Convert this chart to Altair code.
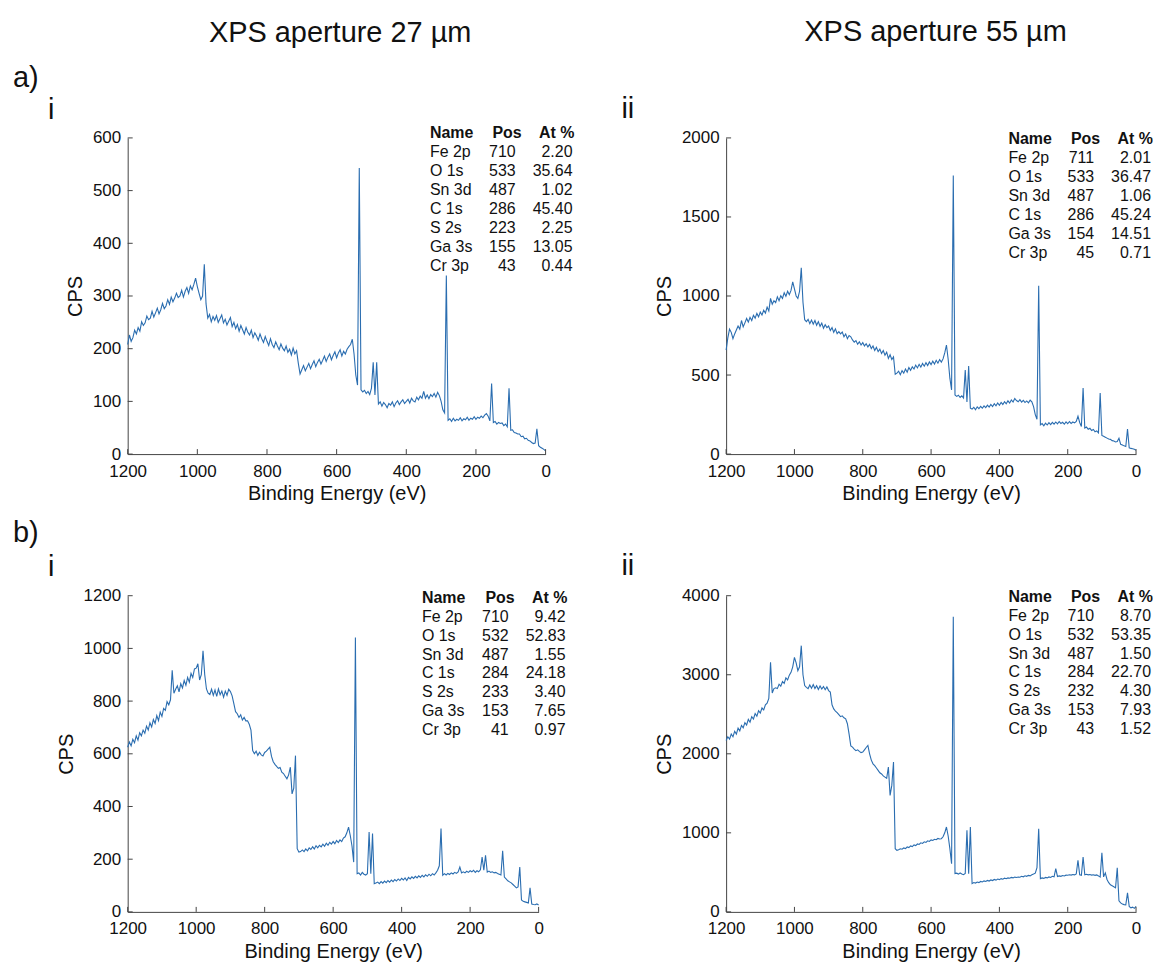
import altair as alt
import pandas as pd

# ---------------- data ----------------
# binding-energy sampling grid (eV), 5 eV steps from 1200 down to 0
ENERGY = [
    1200, 1195, 1190, 1185, 1180, 1175, 1170, 1165, 1160, 1155,
    1150, 1145, 1140, 1135, 1130, 1125, 1120, 1115, 1110, 1105,
    1100, 1095, 1090, 1085, 1080, 1075, 1070, 1065, 1060, 1055,
    1050, 1045, 1040, 1035, 1030, 1025, 1020, 1015, 1010, 1005,
    1000, 995, 990, 985, 980, 975, 970, 965, 960, 955,
    950, 945, 940, 935, 930, 925, 920, 915, 910, 905,
    900, 895, 890, 885, 880, 875, 870, 865, 860, 855,
    850, 845, 840, 835, 830, 825, 820, 815, 810, 805,
    800, 795, 790, 785, 780, 775, 770, 765, 760, 755,
    750, 745, 740, 735, 730, 725, 720, 715, 710, 705,
    700, 695, 690, 685, 680, 675, 670, 665, 660, 655,
    650, 645, 640, 635, 630, 625, 620, 615, 610, 605,
    600, 595, 590, 585, 580, 575, 570, 565, 560, 555,
    550, 545, 540, 535, 530, 525, 520, 515, 510, 505,
    500, 495, 490, 485, 480, 475, 470, 465, 460, 455,
    450, 445, 440, 435, 430, 425, 420, 415, 410, 405,
    400, 395, 390, 385, 380, 375, 370, 365, 360, 355,
    350, 345, 340, 335, 330, 325, 320, 315, 310, 305,
    300, 295, 290, 285, 280, 275, 270, 265, 260, 255,
    250, 245, 240, 235, 230, 225, 220, 215, 210, 205,
    200, 195, 190, 185, 180, 175, 170, 165, 160, 155,
    150, 145, 140, 135, 130, 125, 120, 115, 110, 105,
    100, 95, 90, 85, 80, 75, 70, 65, 60, 55,
    50, 45, 40, 35, 30, 25, 20, 15, 10, 5,
    0,
]

# a) i  - aperture 27 um
CPS_A_I = [
    208, 226, 214, 221, 235, 228, 240, 233, 251, 244,
    249, 262, 255, 258, 271, 260, 268, 277, 266, 274,
    286, 276, 281, 293, 284, 298, 289, 296, 305, 297,
    300, 311, 298, 309, 316, 305, 319, 312, 322, 334,
    318, 305, 293, 300, 360, 285, 258, 265, 251, 261,
    254, 263, 250, 257, 264, 249, 256, 245, 252, 259,
    242, 250, 238, 246, 233, 244, 236, 228, 240, 231,
    226, 235, 221, 230, 224, 216, 228, 219, 212, 223,
    214, 206, 219, 208, 202, 213, 205, 198, 209, 201,
    196, 205, 193, 199, 188, 201, 190, 196, 172, 152,
    160, 168, 158, 165, 172, 162, 170, 177, 166, 174,
    180, 171, 178, 186, 176, 184, 190, 179, 187, 194,
    183, 192, 198, 186, 195, 190, 199, 204, 208, 218,
    190, 150, 131, 543, 122, 118, 121, 115, 119, 113,
    125, 174, 112, 174, 95, 99, 91, 98, 94, 88,
    96, 93, 99, 90, 97, 101, 94, 99, 103, 96,
    100, 104, 97, 106, 101, 99, 108, 103, 110, 106,
    119, 106, 112, 105, 113, 109, 115, 108, 117, 111,
    100, 84, 78, 339, 64, 67, 62, 68, 63, 66,
    64, 69, 63, 67, 65, 70, 64, 68, 66, 71,
    66, 70, 68, 72, 69, 74, 77, 72, 63, 134,
    60, 62, 57, 60, 58, 59, 54, 57, 52, 125,
    45, 46, 41, 40, 38, 38, 33, 34, 29, 30,
    26, 25, 22, 20, 21, 48, 16, 13, 11, 9,
    6,
]

# a) ii - aperture 55 um
CPS_A_II = [
    658, 735, 790, 770, 730, 760, 785, 810, 790, 845,
    805, 830, 858, 835, 865, 845, 878, 860, 890, 868,
    898, 880, 910, 892, 930, 905, 985, 948, 970, 958,
    995, 970, 1002, 985, 1020, 998, 1030, 1008, 1035, 1090,
    1045, 1000, 985, 1030, 1178, 960, 850, 838, 852, 825,
    848, 822, 845, 815, 838, 808, 828, 796, 818, 800,
    810, 782, 800, 770, 792, 762, 775, 760, 772, 742,
    760, 730, 750, 742, 722, 708, 718, 695, 710, 690,
    705, 684, 698, 678, 694, 668, 684, 655, 675, 648,
    664, 636, 655, 625, 645, 605, 628, 598, 615, 505,
    512, 524, 502, 528, 512, 538, 518, 548, 530, 552,
    538, 563, 545, 568, 550, 573, 556, 578, 560, 583,
    566, 588, 570, 593, 575, 598, 582, 602, 640, 690,
    600, 480, 406, 1762, 374, 365, 372, 358, 368, 355,
    532, 330, 557, 290, 285, 296, 281, 299, 287, 302,
    290, 305, 294, 310, 297, 314, 301, 319, 305, 323,
    309, 327, 314, 332, 318, 337, 323, 342, 329, 352,
    339, 331, 344, 329, 340, 326, 336, 324, 341, 330,
    300, 250, 220, 1064, 185, 193, 179, 196, 184, 199,
    187, 201, 189, 203, 191, 206, 194, 201, 189, 204,
    192, 206, 194, 203, 197, 207, 240, 200, 175, 418,
    165, 171, 157, 163, 149, 156, 141, 147, 134, 386,
    118, 113, 107, 101, 95, 93, 85, 83, 77, 80,
    100, 62, 58, 52, 48, 158, 40, 36, 34, 30,
    25,
]

# b) i  - aperture 27 um
CPS_B_I = [
    625, 645, 630, 655, 642, 668, 652, 680, 668, 690,
    678, 705, 690, 718, 702, 730, 715, 745, 726, 758,
    742, 772, 765, 798, 786, 805, 917, 830, 845, 858,
    835, 866, 850, 878, 860, 890, 872, 905, 890, 922,
    925, 942, 880, 900, 991, 900, 846, 830, 825, 845,
    822, 842, 818, 846, 824, 838, 815, 838, 822, 845,
    836, 820, 790, 760, 752, 738, 748, 728, 738, 725,
    725, 712, 690, 612, 600, 610, 594, 606, 596, 592,
    605, 610, 618, 625, 590, 570, 560, 552, 545, 548,
    530, 525, 515, 505, 520, 549, 448, 470, 593, 240,
    227, 229, 235, 229, 239, 232, 243, 237, 247, 239,
    251, 243, 253, 247, 257, 249, 261, 253, 264, 257,
    267, 259, 271, 263, 273, 267, 280, 285, 300, 322,
    290, 250, 189, 1041, 145, 148, 140, 150, 143, 140,
    145, 303, 145, 297, 107, 110, 113, 107, 115, 109,
    117, 111, 119, 113, 121, 115, 123, 117, 125, 119,
    127, 121, 129, 119, 131, 125, 133, 127, 135, 129,
    137, 131, 139, 133, 141, 135, 143, 137, 145, 140,
    148, 158, 175, 316, 139, 145, 140, 146, 142, 148,
    144, 150, 146, 152, 170, 148, 152, 148, 154, 150,
    156, 152, 158, 150, 156, 152, 160, 208, 158, 215,
    151, 155, 150, 152, 148, 150, 146, 143, 140, 232,
    132, 125, 118, 114, 110, 104, 98, 91, 95, 170,
    45, 40, 38, 36, 34, 91, 30, 28, 27, 30,
    26,
]

# b) ii - aperture 55 um
CPS_B_II = [
    2168, 2215, 2185, 2250, 2215, 2285, 2250, 2325, 2290, 2360,
    2330, 2395, 2365, 2435, 2400, 2470, 2440, 2510, 2475, 2545,
    2515, 2580, 2555, 2620, 2640, 2700, 3158, 2770, 2825, 2835,
    2825, 2880, 2855, 2915, 2890, 2960, 2935, 2995, 3030, 3100,
    3221, 3150, 3052, 3100, 3368, 3000, 2863, 2840, 2825, 2870,
    2830, 2875, 2825, 2862, 2815, 2858, 2820, 2850, 2810, 2845,
    2800, 2780, 2620, 2568, 2540, 2520, 2495, 2470, 2480, 2455,
    2442, 2380, 2250, 2100, 2084, 2060, 2040, 2050, 2030, 2015,
    2021, 2050, 2080, 2105, 2000, 1920, 1873, 1850, 1820, 1790,
    1760, 1745, 1720, 1705, 1690, 1831, 1474, 1600, 1895, 800,
    779, 786, 799, 793, 809, 801, 821, 813, 834, 826,
    847, 839, 859, 853, 874, 866, 887, 879, 899, 891,
    911, 903, 919, 913, 929, 923, 926, 950, 1000, 1074,
    960, 800, 610, 3734, 484, 490, 478, 492, 480, 470,
    485, 1031, 484, 1074, 358, 372, 365, 378, 370, 385,
    378, 392, 385, 398, 390, 404, 396, 410, 402, 415,
    408, 421, 414, 426, 420, 430, 425, 436, 430, 440,
    435, 442, 438, 450, 444, 456, 450, 462, 456, 470,
    478, 490, 560, 1053, 421, 430, 424, 436, 430, 442,
    436, 450, 444, 547, 448, 455, 450, 460, 455, 465,
    463, 470, 465, 472, 468, 480, 653, 470, 463, 695,
    470, 475, 468, 472, 465, 470, 462, 468, 455, 440,
    747, 443, 494, 410, 370, 342, 330, 318, 304, 557,
    140, 114, 100, 92, 89, 240, 70, 51, 60, 45,
    70,
]

# quantification tables
HEADER = ["Name", "Pos", "At %"]
NAMES_A_I = ["Fe 2p", "O 1s", "Sn 3d", "C 1s", "S 2s", "Ga 3s", "Cr 3p"]
POS_A_I = ["710", "533", "487", "286", "223", "155", "43"]
AT_A_I = ["2.20", "35.64", "1.02", "45.40", "2.25", "13.05", "0.44"]

NAMES_A_II = ["Fe 2p", "O 1s", "Sn 3d", "C 1s", "Ga 3s", "Cr 3p"]
POS_A_II = ["711", "533", "487", "286", "154", "45"]
AT_A_II = ["2.01", "36.47", "1.06", "45.24", "14.51", "0.71"]

NAMES_B_I = ["Fe 2p", "O 1s", "Sn 3d", "C 1s", "S 2s", "Ga 3s", "Cr 3p"]
POS_B_I = ["710", "532", "487", "284", "233", "153", "41"]
AT_B_I = ["9.42", "52.83", "1.55", "24.18", "3.40", "7.65", "0.97"]

NAMES_B_II = ["Fe 2p", "O 1s", "Sn 3d", "C 1s", "S 2s", "Ga 3s", "Cr 3p"]
POS_B_II = ["710", "532", "487", "284", "232", "153", "43"]
AT_B_II = ["8.70", "53.35", "1.50", "22.70", "4.30", "7.93", "1.52"]

X_TICKS = [1200, 1000, 800, 600, 400, 200, 0]
Y_TICKS_A_I = [0, 100, 200, 300, 400, 500, 600]
Y_TICKS_A_II = [0, 500, 1000, 1500, 2000]
Y_TICKS_B_I = [0, 200, 400, 600, 800, 1000, 1200]
Y_TICKS_B_II = [0, 1000, 2000, 3000, 4000]

COL_TITLES = ["XPS aperture 27 µm", "XPS aperture 55 µm"]
ROW_LABELS = ["a)", "b)"]
SUB_LABELS = ["i", "ii"]

# ---------------- styling ----------------
FONT = "Liberation Sans"
LINE_COLOR = "#2a6db0"
AXIS_COLOR = "#444444"
TEXT_COLOR = "#111111"
H = 317
ROW_STEP = 19
DUMMY = pd.DataFrame({"k": [0]})


def text_block(lines, x, y, align, weight, size=16):
    return alt.Chart(DUMMY).mark_text(
        text=list(lines), align=align, baseline="alphabetic", font=FONT,
        fontSize=size, fontWeight=weight, color=TEXT_COLOR,
        lineHeight=ROW_STEP,
    ).encode(x=alt.value(x), y=alt.value(y))


def panel(cps, yticks, W, names, pos, at, tbl, labels):
    name_x, pos_r, at_r, head_y = tbl
    xs = alt.Scale(domain=[0, 1200], reverse=True, nice=False, zero=False)
    ys = alt.Scale(domain=[yticks[0], yticks[-1]], nice=False)
    df = pd.DataFrame({"BE": ENERGY, "CPS": cps})

    line = alt.Chart(df).mark_line(color=LINE_COLOR, strokeWidth=1.1).encode(
        x=alt.X("BE:Q", scale=xs, axis=alt.Axis(
            values=X_TICKS, format="d", title="Binding Energy (eV)",
            ticks=False, labelPadding=9, titlePadding=5, grid=False,
            labelFlush=False, labelOverlap=False)),
        y=alt.Y("CPS:Q", scale=ys, axis=alt.Axis(
            values=yticks, format="d", title="CPS", ticks=False,
            labelPadding=7, titlePadding=7, grid=False,
            labelFlush=False, labelOverlap=False)),
    )
    xt = alt.Chart(pd.DataFrame({"BE": X_TICKS})).mark_rule(
        color=AXIS_COLOR, strokeWidth=1).encode(
        x=alt.X("BE:Q", scale=xs),
        y=alt.value(H), y2=alt.value(H - 5))
    yt = alt.Chart(pd.DataFrame({"CPS": yticks})).mark_rule(
        color=AXIS_COLOR, strokeWidth=1).encode(
        y=alt.Y("CPS:Q", scale=ys),
        x=alt.value(0), x2=alt.value(5))

    layers = [
        line, xt, yt,
        text_block([HEADER[0]], name_x, head_y, "left", "bold"),
        text_block([HEADER[1]], pos_r, head_y, "right", "bold"),
        text_block([HEADER[2]], at_r, head_y, "right", "bold"),
        text_block(names, name_x, head_y + ROW_STEP, "left", "normal"),
        text_block(pos, pos_r - 6, head_y + ROW_STEP, "right", "normal"),
        text_block(at, at_r - 2, head_y + ROW_STEP, "right", "normal"),
    ]
    for (txt, x, y, size, align) in labels:
        layers.append(text_block([txt], x, y, align, "normal", size))
    return alt.layer(*layers).properties(width=W, height=H)


p_a_i = panel(CPS_A_I, Y_TICKS_A_I, 419, NAMES_A_I, POS_A_I, AT_A_I,
              (303, 395, 448, 0),
              [(COL_TITLES[0], 213, -96, 29, "center"),
               (ROW_LABELS[0], -115, -51, 29, "left"),
               (SUB_LABELS[0], -80, -19, 29, "left")])
p_a_ii = panel(CPS_A_II, Y_TICKS_A_II, 411, NAMES_A_II, POS_A_II, AT_A_II,
               (283, 375, 428, 6),
               [(COL_TITLES[1], 210, -97, 29, "center"),
                (SUB_LABELS[1], -105, -20, 29, "left")])
p_b_i = panel(CPS_B_I, Y_TICKS_B_I, 412, NAMES_B_I, POS_B_I, AT_B_I,
              (295, 388, 441, 7),
              [(ROW_LABELS[1], -115, -54, 29, "left"),
               (SUB_LABELS[0], -80, -20, 29, "left")])
p_b_ii = panel(CPS_B_II, Y_TICKS_B_II, 411, NAMES_B_II, POS_B_II, AT_B_II,
               (283, 375, 428, 6),
               [(SUB_LABELS[1], -105, -21, 29, "left")])

chart = alt.concat(
    p_a_i, p_a_ii, p_b_i, p_b_ii, columns=2,
    spacing={"row": 142, "column": 181}, bounds="flush",
).properties(
    padding={"left": 5, "top": 9, "right": 0, "bottom": 0},
    background="white",
).configure_view(strokeWidth=0).configure_axis(
    labelFont=FONT, titleFont=FONT, labelFontSize=17, titleFontSize=20,
    labelColor=TEXT_COLOR, titleColor=TEXT_COLOR, titleFontWeight="normal",
    domainColor=AXIS_COLOR, domainWidth=1,
)

chart.save("out.html", embed_options={"renderer": "svg", "actions": False})
